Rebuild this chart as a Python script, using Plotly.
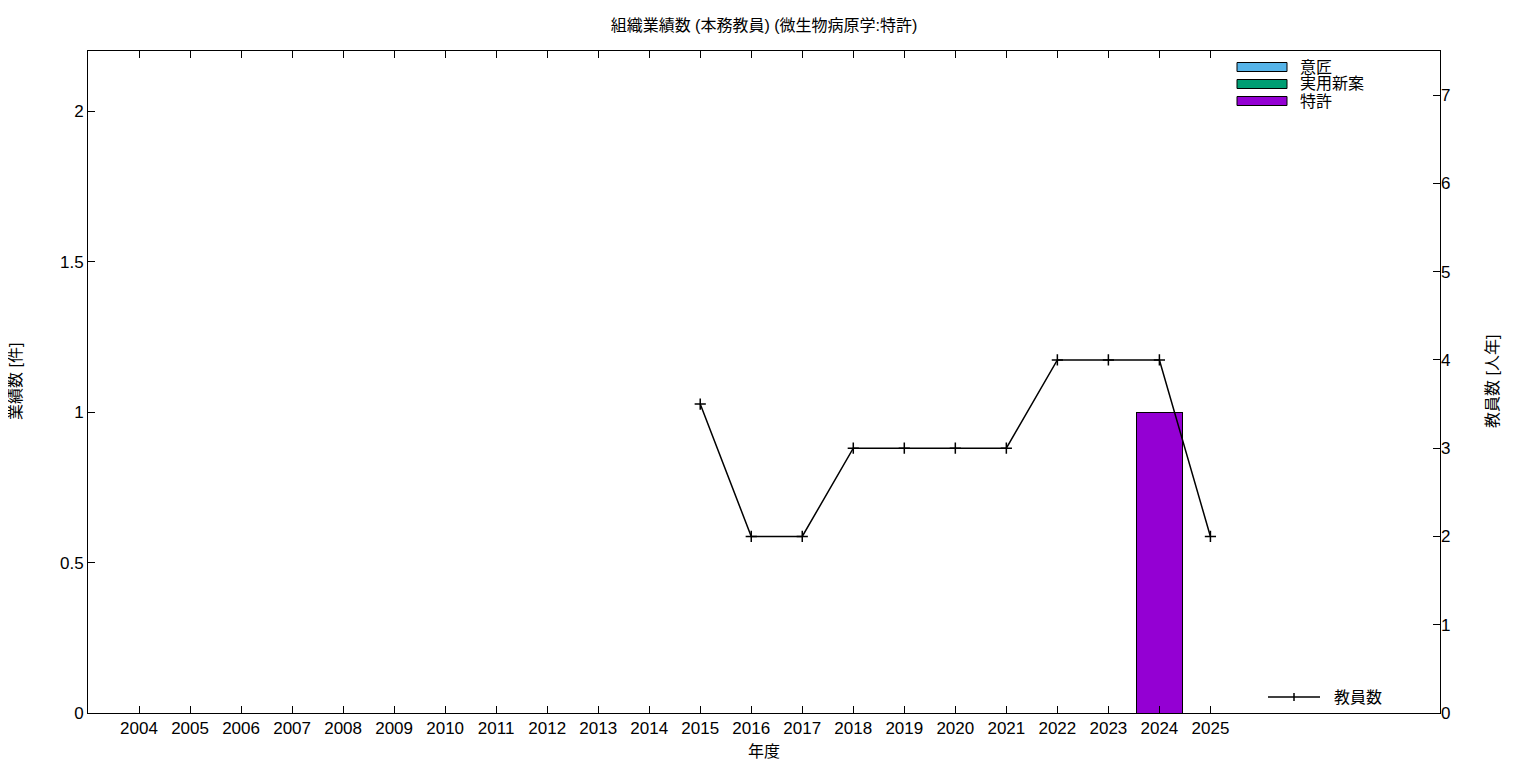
import plotly.graph_objects as go

years = list(range(2004, 2026))
year_labels = [str(y) for y in years]
ishou = [0] * 22
jitsuyou = [0] * 22
tokkyo = [0] * 22
tokkyo[years.index(2024)] = 1

staff_years = [2015, 2016, 2017, 2018, 2019, 2020, 2021, 2022, 2023, 2024, 2025]
staff = [3.5, 2, 2, 3, 3, 3, 3, 4, 4, 4, 2]

bar_names = ["意匠", "実用新案", "特許"]
bar_colors = ["#56b4e9", "#009e73", "#9400d3"]
bar_values = [ishou, jitsuyou, tokkyo]

FONT = "Liberation Sans, Noto Sans CJK JP"

fig = go.Figure()
for name, col, vals in zip(bar_names, bar_colors, bar_values):
    fig.add_trace(go.Bar(x=years, y=vals, name=name, width=0.9,
                         marker=dict(color=col, line=dict(color="black", width=1)),
                         showlegend=False))

fig.add_trace(go.Scatter(x=staff_years, y=staff, yaxis="y2", mode="lines+markers",
                         name="教員数", showlegend=False,
                         line=dict(color="black", width=1.5),
                         marker=dict(symbol="cross-thin", size=8,
                                     line=dict(color="black", width=1.5))))

# page body has an 8px margin: compensate so the plot area lands at 88..1440 x 51..713
OFF = 8
pl, pr, pt, pb = 88, 1440, 51, 713
fig.update_layout(
    width=1536 - 2 * OFF, height=768 - 2 * OFF,
    barmode="stack",
    plot_bgcolor="white", paper_bgcolor="white",
    margin=dict(l=pl - OFF, r=1536 - OFF - pr, t=pt - OFF, b=768 - OFF - pb, autoexpand=False),
    font=dict(family=FONT, color="black", size=16),
    title=dict(text="組織業績数 (本務教員) (微生物病原学:特許)", x=0.5, xref="paper",
               y=1 - (25 - OFF) / (768 - 2 * OFF), yanchor="middle", font=dict(size=16)),
    xaxis=dict(range=[2003, 2029.5], tickvals=years, ticktext=year_labels,
               ticks="inside", ticklen=7, tickcolor="black", showline=True,
               linecolor="black", linewidth=1, mirror="ticks", showgrid=False,
               zeroline=False, tickfont=dict(size=17), automargin=False),
    yaxis=dict(range=[0, 2.2], tickvals=[0, 0.5, 1, 1.5, 2], ticktext=["0", "0.5", "1", "1.5", "2"],
               ticks="inside", ticklen=7, tickcolor="black", showline=True,
               linecolor="black", linewidth=1, mirror=True, showgrid=False,
               zeroline=False, tickfont=dict(size=17), automargin=False),
    yaxis2=dict(range=[0, 7.5], tickvals=list(range(0, 8)), overlaying="y", side="right",
                ticks="inside", ticklen=7, tickcolor="black", showline=False,
                showgrid=False, zeroline=False, tickfont=dict(size=17), automargin=False),
)

def px(x):
    return (x - pl) / (pr - pl)
def py(y):
    return (pb - y) / (pb - pt)

# axis titles
fig.add_annotation(xref="paper", yref="paper", x=px(15), y=py(382), text="業績数 [件]",
                   textangle=-90, showarrow=False, xanchor="center", yanchor="middle",
                   font=dict(size=16))
fig.add_annotation(xref="paper", yref="paper", x=px(1492), y=py(382), text="教員数 [人年]",
                   textangle=-90, showarrow=False, xanchor="center", yanchor="middle",
                   font=dict(size=16))
fig.add_annotation(xref="paper", yref="paper", x=px(764), y=py(751), text="年度",
                   showarrow=False, xanchor="center", yanchor="middle",
                   font=dict(size=16))

for i, (name, col) in enumerate(zip(bar_names, bar_colors)):
    yc = 67 + i * 17
    fig.add_shape(type="rect", xref="paper", yref="paper",
                  x0=px(1237), x1=px(1287), y0=py(yc + 4.5), y1=py(yc - 4.5),
                  fillcolor=col, line=dict(color="black", width=1))
    fig.add_annotation(xref="paper", yref="paper", x=px(1298), y=py(yc),
                       text=name, showarrow=False, xanchor="left", yanchor="middle",
                       font=dict(size=16))

fig.add_shape(type="line", xref="paper", yref="paper", x0=px(1268), x1=px(1320),
              y0=py(697), y1=py(697), line=dict(color="black", width=1.5))
fig.add_shape(type="line", xref="paper", yref="paper", x0=px(1294), x1=px(1294),
              y0=py(693), y1=py(701), line=dict(color="black", width=1.5))
fig.add_annotation(xref="paper", yref="paper", x=px(1332), y=py(697),
                   text="教員数", showarrow=False, xanchor="left", yanchor="middle",
                   font=dict(size=16))

fig.write_html("out.html")
